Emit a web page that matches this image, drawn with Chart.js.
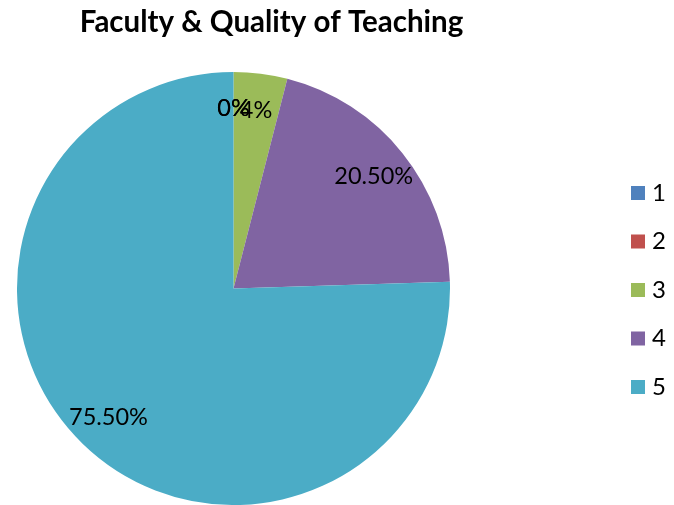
<!DOCTYPE html>
<html>
<head>
<meta charset="utf-8">
<script src="https://cdn.jsdelivr.net/npm/chart.js@4/dist/chart.umd.min.js"></script>
<style>
  html, body { margin: 0; padding: 0; background: #fff; }
  #wrap { position: relative; width: 674px; height: 505px; }
</style>
</head>
<body>
<div id="wrap"><canvas id="pie" width="674" height="505"></canvas></div>
<script>
const chartTitle = 'Faculty & Quality of Teaching';
const categories = ['1', '2', '3', '4', '5'];
const shares = [0, 0, 4, 20.5, 75.5];
const shareLabels = ['0%', '0%', '4%', '20.50%', '75.50%'];
const colors = ['#4F81BD', '#C0504D', '#9BBB59', '#8064A2', '#4BACC6'];

const FONT = 'Lato, Carlito, Calibri, "Open Sans", sans-serif';

// data labels, title and legend drawn on the canvas after the pie
const extras = {
  id: 'extras',
  afterDatasetsDraw(chart) {
    const ctx = chart.ctx;
    const meta = chart.getDatasetMeta(0);
    ctx.save();
    ctx.fillStyle = '#000';
    ctx.textAlign = 'center';
    ctx.textBaseline = 'middle';
    ctx.font = '23.5px ' + FONT;
    meta.data.forEach((arc, i) => {
      const p = arc.getProps(['x', 'y', 'startAngle', 'endAngle', 'outerRadius'], true);
      const mid = (p.startAngle + p.endAngle) / 2;
      const r = p.outerRadius * 0.83;
      ctx.fillText(shareLabels[i], p.x + Math.cos(mid) * r, p.y + Math.sin(mid) * r);
    });

    ctx.font = 'bold 29.5px ' + FONT;
    ctx.fillText(chartTitle, 271.5, 22);

    ctx.font = '24px ' + FONT;
    ctx.textAlign = 'left';
    categories.forEach((c, i) => {
      const y = 193 + i * 48.5;
      ctx.fillStyle = colors[i];
      ctx.fillRect(631, y - 7, 14, 14);
      ctx.fillStyle = '#000';
      ctx.fillText(c, 652, y);
    });
    ctx.restore();
  },
};

new Chart(document.getElementById('pie'), {
  type: 'pie',
  data: {
    labels: categories,
    datasets: [{
      data: shares,
      backgroundColor: colors,
      borderWidth: 0,
    }],
  },
  options: {
    responsive: false,
    animation: false,
    layout: { padding: { left: 17, right: 224, top: 72, bottom: 0 } },
    plugins: {
      legend: { display: false },
      title: { display: false },
      tooltip: { enabled: false },
    },
  },
  plugins: [extras],
});
</script>
</body>
</html>
